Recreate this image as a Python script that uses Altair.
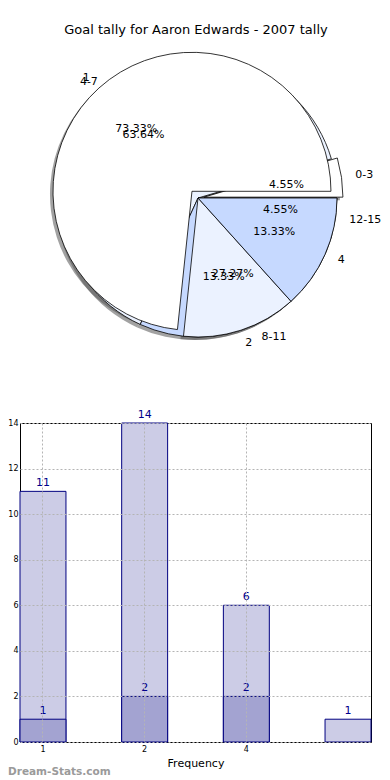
import math
import altair as alt
import pandas as pd

TITLE = "Goal tally for Aaron Edwards - 2007 tally"

# pie 1 (goal intervals)
pie1_labels = ["0-3", "4-7", "8-11", "12-15"]
pie1_values = [1, 14, 6, 1]
# pie 2 (frequency)
pie2_labels = ["1", "2", "4"]
pie2_values = [11, 2, 2]

# bar chart
bar_categories = ["1", "2", "4", " "]
bar_totals = [11, 14, 6, 1]
bar_parts = [1, 2, 2]
x_tick_labels = ["1", "2", "4"]
y_ticks = [0, 2, 4, 6, 8, 10, 12, 14]

X_TITLE = "Frequency"
Y_TITLE = "Goal Intervals"
WATERMARK = "Dream-Stats.com"

SLICE_COLORS = ["#ffffff", "#ebf2ff", "#c6d9ff"]
EXPLODE1 = {"0-3": 6}
EXPLODE2 = {"1": 9}

W = 351
PIE_H = 393
BAR_H = 319
CX, CY, R = 178, 190, 139
FONT = "DejaVu Sans"

theta_scale = alt.Scale(domain=[0, 1], range=[2.5 * math.pi, 0.5 * math.pi])
color_scale = alt.Scale(domain=["c0", "c1", "c2"], range=SLICE_COLORS)


def pie_base(labels, values, explode):
    df = pd.DataFrame({"label": labels, "value": values, "order": list(range(len(labels)))})
    ex = "0"
    for k, v in explode.items():
        ex = f"datum.label == '{k}' ? {v} : ({ex})"
    return (
        alt.Chart(df)
        .transform_window(cum="sum(value)", sort=[alt.SortField("order")])
        .transform_joinaggregate(total="sum(value)")
        .transform_calculate(
            s="(datum.cum - datum.value) / datum.total",
            e="datum.cum / datum.total",
            m="(datum.cum - datum.value / 2) / datum.total",
            pct="format(datum.value / datum.total, '.2%')",
            ex=ex,
            ci="'c' + (datum.order % 3)",
        )
        .transform_calculate(
            px=f"{CX} + datum.ex * cos(2 * PI * datum.m)",
            py=f"{CY} - datum.ex * sin(2 * PI * datum.m)",
            side="cos(2 * PI * datum.m) >= 0 ? 'r' : 'l'",
        )
    )


def pie_layers(labels, values, explode):
    base = pie_base(labels, values, explode)
    pos = dict(
        x=alt.X("px:Q", scale=None, axis=None),
        y=alt.Y("py:Q", scale=None, axis=None),
    )
    arcs = base.mark_arc(outerRadius=R, stroke="black", strokeWidth=0.8).encode(
        theta=alt.Theta("s:Q", scale=theta_scale, stack=False),
        theta2="e:Q",
        color=alt.Color("ci:N", scale=color_scale, legend=None),
        **pos,
    )
    pct = base.mark_text(font=FONT, fontSize=11, baseline="middle", align="center").encode(
        theta=alt.Theta("m:Q", scale=theta_scale, stack=False),
        radius=alt.value(R * 0.6),
        text="pct:N",
        **pos,
    )
    lab_r = base.transform_filter("datum.side == 'r'").mark_text(
        font=FONT, fontSize=11, baseline="middle", align="left"
    ).encode(
        theta=alt.Theta("m:Q", scale=theta_scale, stack=False),
        radius=alt.value(R * 1.1),
        text="label:N",
        **pos,
    )
    lab_l = base.transform_filter("datum.side == 'l'").mark_text(
        font=FONT, fontSize=11, baseline="middle", align="right"
    ).encode(
        theta=alt.Theta("m:Q", scale=theta_scale, stack=False),
        radius=alt.value(R * 1.1),
        text="label:N",
        **pos,
    )
    shadow = base.mark_arc(outerRadius=R, fill="#555555", opacity=0.55, xOffset=-3, yOffset=3).encode(
        theta=alt.Theta("s:Q", scale=theta_scale, stack=False),
        theta2="e:Q",
        **pos,
    )
    return shadow, arcs, pct, lab_r, lab_l


s1, a1, p1, lr1, ll1 = pie_layers(pie1_labels, pie1_values, EXPLODE1)
s2, a2, p2, lr2, ll2 = pie_layers(pie2_labels, pie2_values, EXPLODE2)

title_mark = alt.Chart(pd.DataFrame({"t": [TITLE]})).mark_text(
    font=FONT, fontSize=13, baseline="middle", align="center"
).encode(x=alt.value(176), y=alt.value(22), text="t:N")

pie = alt.layer(s1, s2, a1, a2, p1, p2, lr1, ll1, lr2, ll2, title_mark).properties(
    width=W, height=PIE_H, view=alt.ViewBackground(stroke=None)
)

# ---- bar chart ----
bar_df = pd.DataFrame({"cat": bar_categories, "total": bar_totals})
part_df = pd.DataFrame({"cat": bar_categories[: len(bar_parts)], "part": bar_parts})

xscale = alt.Scale(domain=bar_categories, paddingInner=0.548, paddingOuter=0)
yscale = alt.Scale(domain=[0, 14], nice=False)

x_enc = alt.X(
    "cat:N",
    scale=xscale,
    sort=bar_categories,
    axis=alt.Axis(
        values=x_tick_labels, labelAngle=0, labelFontSize=8, labelFont=FONT,
        title=X_TITLE, titleFontSize=11, titleFont=FONT, titleFontWeight="normal", titlePadding=4,
        grid=True, gridDash=[2, 2], gridColor="#b4b4b4", domain=False, tickSize=0,
        labelPadding=3, zindex=1,
    ),
)
y_axis = alt.Axis(
    values=y_ticks, labelFontSize=8, labelFont=FONT, title=Y_TITLE, titleFontSize=9,
    titleFont=FONT, titleFontWeight="normal", titlePadding=2,
    grid=True, gridDash=[2, 2], gridColor="#b4b4b4", domain=False, tickSize=0,
    labelPadding=2, zindex=1,
)

total_bars = alt.Chart(bar_df).mark_bar(fill="#ccccE6", stroke="#000080", strokeWidth=1).encode(
    x=x_enc, y=alt.Y("total:Q", scale=yscale, axis=y_axis)
)
part_bars = alt.Chart(part_df).mark_bar(fill="#a3a3d1", stroke="#000080", strokeWidth=1).encode(
    x=alt.X("cat:N", scale=xscale, sort=bar_categories), y=alt.Y("part:Q", scale=yscale)
)
total_txt = alt.Chart(bar_df).mark_text(font=FONT, fontSize=11, color="#00008b", dy=-8).encode(
    x=alt.X("cat:N", scale=xscale, sort=bar_categories), y=alt.Y("total:Q", scale=yscale), text="total:Q"
)
part_txt = alt.Chart(part_df).mark_text(font=FONT, fontSize=11, color="#00008b", dy=-8).encode(
    x=alt.X("cat:N", scale=xscale, sort=bar_categories), y=alt.Y("part:Q", scale=yscale), text="part:Q"
)
wm = alt.Chart(pd.DataFrame({"t": [WATERMARK]})).mark_text(
    font=FONT, fontSize=10.5, fontWeight="bold", color="#9a9a9a", align="left", baseline="middle"
).encode(x=alt.value(-12), y=alt.value(349), text="t:N")

bars = alt.layer(total_bars, part_bars, total_txt, part_txt, wm).properties(
    width=W, height=BAR_H, view=alt.ViewBackground(stroke="#000000", strokeWidth=1)
)

chart = alt.vconcat(pie, bars, spacing=7).configure_view(stroke=None).properties(
    padding={"left": -12, "top": 0, "right": 0, "bottom": 0}
)

chart.save("out.html", embed_options={"renderer": "svg", "actions": False})
